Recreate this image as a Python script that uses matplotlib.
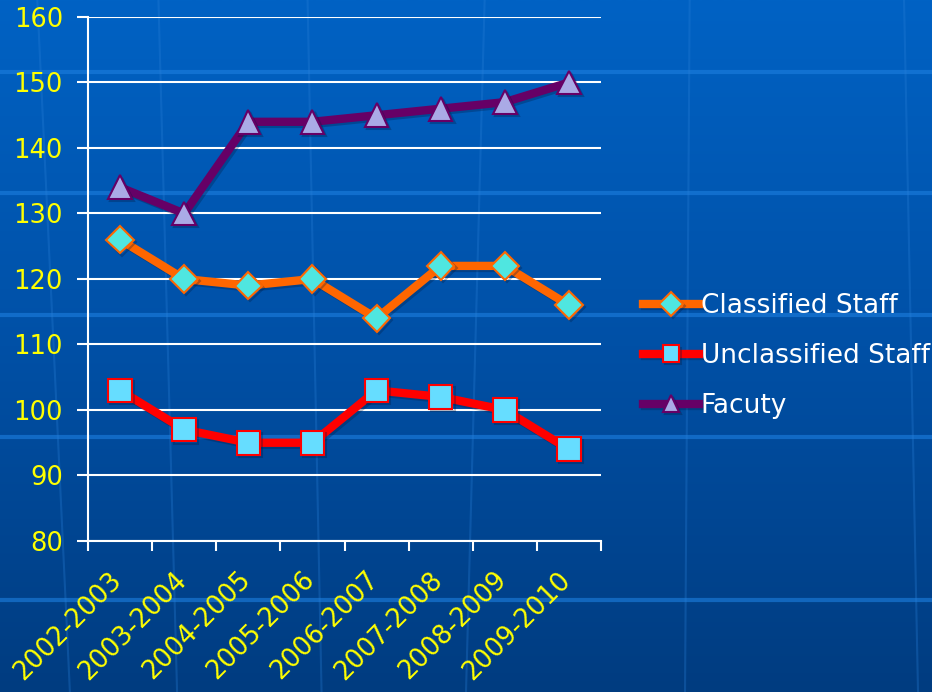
import matplotlib
matplotlib.use("Agg")
import matplotlib.pyplot as plt
import matplotlib.patheffects as pe
import matplotlib.transforms as mtransforms
from matplotlib.colors import LinearSegmentedColormap
import numpy as np

years = ["2002-2003", "2003-2004", "2004-2005", "2005-2006",
         "2006-2007", "2007-2008", "2008-2009", "2009-2010"]
classified = [126, 120, 119, 120, 114, 122, 122, 116]
unclassified = [103, 97, 95, 95, 103, 102, 100, 94]
faculty = [134, 130, 144, 144, 145, 146, 147, 150]

fig = plt.figure(figsize=(9.32, 6.92), dpi=100)

# background gradient
bg = fig.add_axes([0, 0, 1, 1], zorder=-10)
grad = np.linspace(0, 1, 256).reshape(-1, 1)
cmap = LinearSegmentedColormap.from_list("bg", ["#0062C4", "#0050A6", "#003C80"])
bg.imshow(grad, aspect="auto", cmap=cmap, extent=[0, 1, 0, 1], origin="upper")
for yy in [72, 193, 315, 437, 600]:
    bg.axhline(1 - yy / 692, color="#1E7FE0", lw=3, alpha=0.6)
for x0, x1 in [(0.04, 0.075), (0.17, 0.19), (0.33, 0.345), (0.52, 0.5), (0.74, 0.735), (0.97, 0.985)]:
    bg.plot([x0, x1], [1, 0], color="#2A80D8", lw=1.5, alpha=0.3)
bg.set_xlim(0, 1)
bg.set_ylim(0, 1)
bg.axis("off")

ax = fig.add_axes([88 / 932, 1 - 541 / 692, 513 / 932, 524 / 692])
ax.patch.set_alpha(0)

x = np.arange(len(years))
shadow = [pe.SimpleLineShadow(offset=(1.5, -1.5), shadow_color="#001a40", alpha=0.3), pe.Normal()]

ax.plot(x, classified, color="#FF6600", lw=6, marker="D", ms=14,
        mfc="#4FE6E0", mec="#FF6600", mew=1.5, label="Classified Staff",
        path_effects=shadow, zorder=3)
ax.plot(x, unclassified, color="#FF0000", lw=6, marker="s", ms=17,
        mfc="#66DDFF", mec="#FF0000", mew=1.5, label="Unclassified Staff",
        path_effects=shadow, zorder=3)
ax.plot(x, faculty, color="#660066", lw=6, marker="^", ms=17,
        mfc="#AAAAE6", mec="#660066", mew=1.5, label="Facuty",
        path_effects=shadow, zorder=3)

ax.set_xlim(-0.5, len(years) - 0.5)
ax.set_ylim(80, 160)
ax.set_yticks(range(80, 161, 10))
ax.yaxis.grid(True, color="white", lw=1.5)
ax.set_axisbelow(True)

ax.set_xticks(np.arange(-0.5, len(years), 1.0))
ax.set_xticklabels([])
ax.set_xticks(x, minor=True)
ax.set_xticklabels(years, minor=True, rotation=45, ha="right",
                   rotation_mode="anchor", color="#FFFF00", fontsize=18.5)
ax.tick_params(axis="x", which="minor", length=0, pad=20)
ax.tick_params(axis="x", which="major", length=7, width=1.5, color="white")
ax.tick_params(axis="y", length=8, width=1.5, color="white",
               labelcolor="#FFFF00", labelsize=18.5, pad=10)
shift = mtransforms.ScaledTranslation(-11 / 100, 2 / 100, fig.dpi_scale_trans)
for lbl in ax.get_xticklabels(minor=True):
    lbl.set_transform(lbl.get_transform() + shift)

for s in ["top", "right"]:
    ax.spines[s].set_visible(False)
for s in ["left", "bottom"]:
    ax.spines[s].set_color("white")
    ax.spines[s].set_linewidth(1.5)

leg = fig.legend(loc="center left", bbox_to_anchor=(632 / 932, 1 - 356 / 692),
                 frameon=False, fontsize=19, handlelength=2.15,
                 handletextpad=0.05, labelspacing=0.9, labelcolor="white",
                 borderaxespad=0)
for h in leg.legend_handles:
    h.set_markersize(12)

fig.savefig("out.png", dpi=100)
